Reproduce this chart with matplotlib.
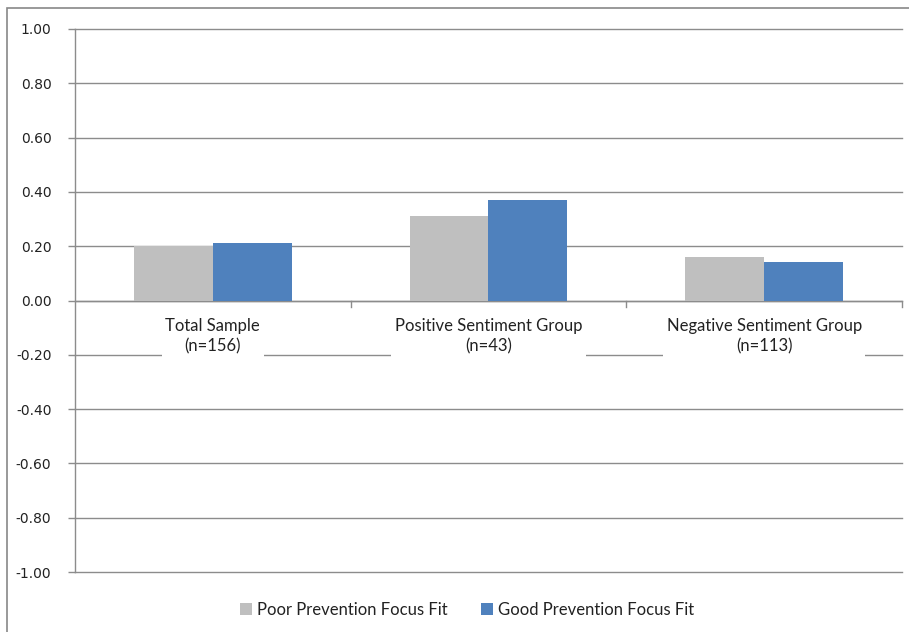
import matplotlib
matplotlib.use("Agg")
import matplotlib.pyplot as plt
from matplotlib.patches import Rectangle, Patch
import numpy as np

categories = ["Total Sample\n(n=156)", "Positive Sentiment Group\n(n=43)", "Negative Sentiment Group\n(n=113)"]
series_names = ["Poor Prevention Focus Fit", "Good Prevention Focus Fit"]
poor_fit = [0.20, 0.31, 0.16]
good_fit = [0.21, 0.37, 0.14]
yticks = [-1.0, -0.8, -0.6, -0.4, -0.2, 0.0, 0.2, 0.4, 0.6, 0.8, 1.0]

GRAY = "#BFBFBF"
BLUE = "#4F81BD"
GRID = "#8C8C8C"
LABEL_FONT = ["Lato", "DejaVu Sans"]

W, H = 909, 632
fig = plt.figure(figsize=(W / 100, H / 100), dpi=100)
fig.patch.set_facecolor("white")

# outer chart frame
fig.patches.append(Rectangle((7 / W, -0.1), 1.2, 1 - 8 / H + 0.1, transform=fig.transFigure,
                             fill=False, edgecolor="#888888", linewidth=1.2))

ax = fig.add_axes([75 / W, 1 - 572 / H, (902 - 75) / W, (572 - 29) / H])
ax.set_facecolor("white")

x = np.arange(len(categories))
bw = 1 / 3.5
ax.bar(x - bw / 2, poor_fit, width=bw, color=GRAY, zorder=3)
ax.bar(x + bw / 2, good_fit, width=bw, color=BLUE, zorder=3)

ax.set_xlim(-0.5, len(categories) - 0.5)
ax.set_ylim(-1.0, 1.0)
ax.set_yticks(yticks)
ax.set_yticklabels([f"{v:.2f}" for v in yticks], fontsize=10, family="DejaVu Sans", color="#222222")
ax.tick_params(axis="y", length=5, width=1, color=GRID, pad=12)
ax.tick_params(axis="x", bottom=False, labelbottom=False)
ax.yaxis.grid(True, color=GRID, linewidth=1, zorder=0, clip_on=False)
for gl in ax.get_ygridlines():
    gl.set_clip_on(False)
ax.set_axisbelow(True)
for s in ["top", "right", "bottom"]:
    ax.spines[s].set_visible(False)
ax.spines["left"].set_color(GRID)
ax.spines["left"].set_linewidth(1)

# category axis on the zero line
ax.axhline(0, color=GRID, linewidth=1, zorder=2)
for b in np.arange(0.5, len(categories), 1.0):
    ax.plot([b, b], [0, -0.025], color=GRID, linewidth=1, clip_on=False, zorder=2)

for xi, lab in zip(x, categories):
    ax.text(xi, -0.065, lab, ha="center", va="top", fontsize=12, family=LABEL_FONT,
            color="#222222", linespacing=1.3, zorder=4,
            bbox=dict(boxstyle="square,pad=0.2", facecolor="white", edgecolor="none"))

handles = [Patch(facecolor=GRAY, edgecolor="none"), Patch(facecolor=BLUE, edgecolor="none")]
fig.legend(handles, series_names, loc="center", bbox_to_anchor=(467 / W, 1 - 610 / H), ncol=2,
           frameon=False, prop={"family": LABEL_FONT, "size": 12}, handlelength=0.7,
           handleheight=0.7, handletextpad=0.3, columnspacing=2.0, labelcolor="#222222")

fig.savefig("out.png", dpi=100, facecolor="white")
